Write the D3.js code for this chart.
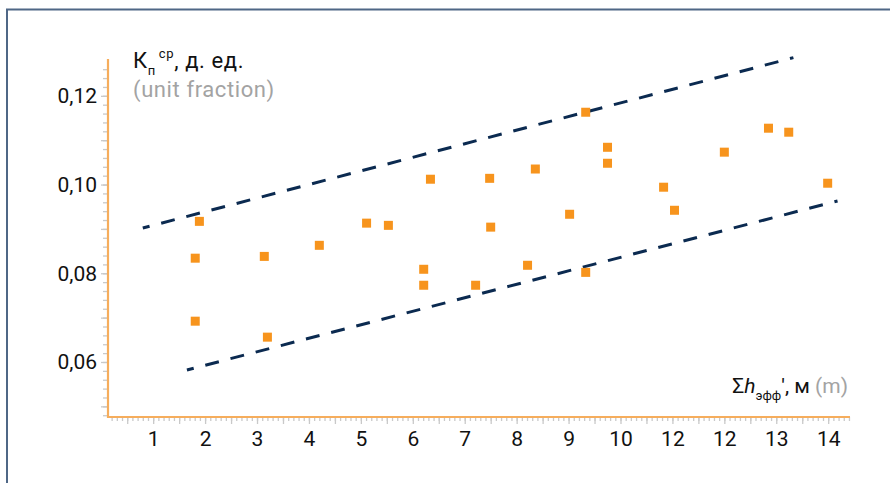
<!DOCTYPE html>
<html>
<head>
<meta charset="utf-8">
<script src="https://cdn.jsdelivr.net/npm/d3@7"></script>
<style>
  body { margin: 0; background: #fff; }
  svg { display: block; font-family: Roboto, "Noto Sans", sans-serif; }
</style>
</head>
<body>
<div class="chart"></div>
<script>
const width = 890, height = 483;

// effective thickness, m
const xValues = [1.89, 1.81, 1.81, 3.14, 3.20, 4.20, 5.11, 5.53, 6.21, 6.21, 6.34, 7.21, 7.48, 7.50,
    8.21, 8.36, 9.02, 9.33, 9.33, 9.75, 9.75, 10.83, 11.04, 12.00, 12.85, 13.24, 13.99];
// Kп ср, unit fraction
const yValues = [0.0917, 0.0834, 0.0692, 0.0838, 0.0656, 0.0863, 0.0913, 0.0908, 0.0809, 0.0773, 0.1012,
    0.0773, 0.1014, 0.0904, 0.0818, 0.1035, 0.0933, 0.1163, 0.0802, 0.1084, 0.1048, 0.0994,
    0.0942, 0.1073, 0.1127, 0.1118, 0.1003];

// envelope lines
const upperLine = [[0.80, 0.0902], [13.33, 0.1286]];
const lowerLine = [[1.65, 0.0582], [14.18, 0.0963]];

const xTickVals = [1, 2, 3, 4, 5, 6, 7, 8, 9, 10, 11, 12, 13, 14];
const xTickLabels = ['1', '2', '3', '4', '5', '6', '7', '8', '9', '10', '12', '12', '13', '14'];
const yTickVals = [0.06, 0.08, 0.10, 0.12];
const yTickLabels = ['0,06', '0,08', '0,10', '0,12'];

let svg = d3.select('.chart')
    .append('svg')
    .attr('width', width)
    .attr('height', height);

// frame
svg.append('path')
    .attr('d', `M7,${height} V9.5 H${width}`)
    .attr('fill', 'none')
    .attr('stroke', '#4f6786')
    .attr('stroke-width', 2);

let x = d3.scaleLinear().domain([0.13, 14.42]).range([108, 850]);
let y = d3.scaleLinear().domain([0.0476, 0.1283]).range([417, 59]);

const tickColor = '#c9c9c9';
function styleTicks(g) {
    g.select('.domain').remove();
    g.selectAll('line').attr('stroke', tickColor).attr('stroke-width', 1.3);
}

// y ticks
let yMinor = d3.range(48, 127, 2).map(d => d / 1000);
let yMid = d3.range(5, 13).map(d => d / 100);
svg.append('g')
    .attr('transform', `translate(${x.range()[0]},0)`)
    .call(d3.axisLeft(y).tickValues(yMinor).tickSize(5).tickFormat(''))
    .call(styleTicks);
svg.append('g')
    .attr('transform', `translate(${x.range()[0]},0)`)
    .call(d3.axisLeft(y).tickValues(yMid).tickSize(7).tickFormat(''))
    .call(styleTicks);
svg.append('g')
    .attr('transform', `translate(${x.range()[0]},0)`)
    .call(d3.axisLeft(y).tickValues(yTickVals).tickSize(0).tickPadding(11)
        .tickFormat((d, i) => yTickLabels[i]))
    .call(g => g.select('.domain').remove())
    .selectAll('text')
    .attr('font-size', 21)
    .attr('font-family', 'Roboto, sans-serif')
    .attr('fill', '#111');

// x ticks
let xMinor = d3.range(2, 145).map(d => d / 10);
let xMid = d3.range(1, 29).map(d => d / 2);
svg.append('g')
    .attr('transform', `translate(0,${y.range()[0]})`)
    .call(d3.axisBottom(x).tickValues(xMinor).tickSize(4).tickFormat(''))
    .call(styleTicks);
svg.append('g')
    .attr('transform', `translate(0,${y.range()[0]})`)
    .call(d3.axisBottom(x).tickValues(xMid).tickSize(7).tickFormat(''))
    .call(styleTicks);
svg.append('g')
    .attr('transform', `translate(0,${y.range()[0]})`)
    .call(d3.axisBottom(x).tickValues(xTickVals).tickSize(0).tickPadding(14)
        .tickFormat((d, i) => xTickLabels[i]))
    .call(g => g.select('.domain').remove())
    .selectAll('text')
    .attr('font-size', 21)
    .attr('font-family', 'Roboto, sans-serif')
    .attr('fill', '#111');

// axis lines
svg.append('path')
    .attr('d', `M${x.range()[0]},${y.range()[1]} V${y.range()[0]} H${x.range()[1]}`)
    .attr('fill', 'none')
    .attr('stroke', '#f6ad5c')
    .attr('stroke-width', 2.2);

// dashed envelope lines
let line = d3.line().x(d => x(d[0])).y(d => y(d[1]));
svg.selectAll('.env')
    .data([upperLine, lowerLine])
    .join('path')
    .attr('class', 'env')
    .attr('d', line)
    .attr('fill', 'none')
    .attr('stroke', '#0b2a50')
    .attr('stroke-width', 3)
    .attr('stroke-dasharray', '14,12')
    .attr('stroke-dashoffset', 7);

// points
const sz = 9;
svg.append('g')
    .selectAll('rect')
    .data(xValues.map((d, i) => [d, yValues[i]]))
    .join('rect')
    .attr('x', d => x(d[0]) - sz / 2)
    .attr('y', d => y(d[1]) - sz / 2)
    .attr('width', sz)
    .attr('height', sz)
    .attr('fill', '#f7941d');

// y title
let yt = svg.append('text')
    .attr('x', 133)
    .attr('y', 68)
    .attr('font-size', 22)
    .attr('letter-spacing', 0.6)
    .attr('fill', '#111');
yt.append('tspan').text('К');
yt.append('tspan').attr('font-size', 13).attr('dy', 7).text('п');
yt.append('tspan').attr('font-size', 13).attr('dy', -17).attr('dx', 3).text('ср');
yt.append('tspan').attr('dy', 10).text(', д. ед.');
svg.append('text')
    .attr('x', 133)
    .attr('y', 97)
    .attr('font-size', 22)
    .attr('letter-spacing', 0.6)
    .attr('fill', '#a3a3a3')
    .text('(unit fraction)');

// x title
let xt = svg.append('text')
    .attr('x', 848)
    .attr('y', 393)
    .attr('text-anchor', 'end')
    .attr('font-size', 21)
    .attr('fill', '#111');
xt.append('tspan').text('Σ');
xt.append('tspan').attr('font-style', 'italic').text('h');
xt.append('tspan').attr('font-size', 13).attr('dy', 7).text('эфф');
xt.append('tspan').attr('dy', -7).text('′, м ');
xt.append('tspan').attr('fill', '#a3a3a3').text('(m)');
</script>
</body>
</html>
